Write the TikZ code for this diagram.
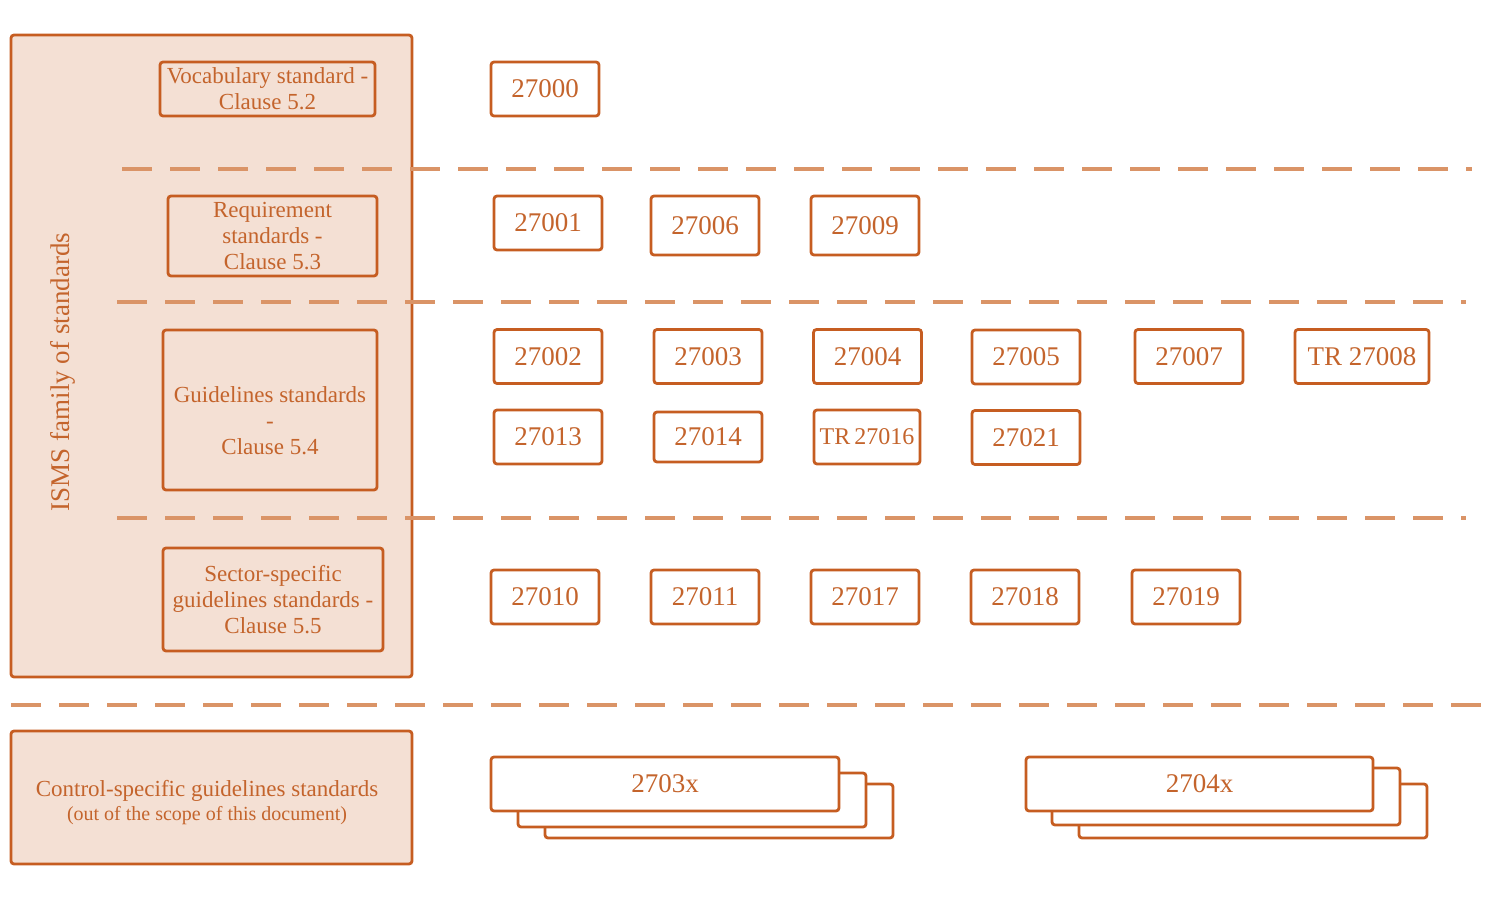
\documentclass[tikz,border=0pt]{standalone}
\usepackage{fontspec}
\setmainfont{Liberation Serif}
\definecolor{stroke}{HTML}{C65D21}
\definecolor{ink}{HTML}{C4642C}
\definecolor{peach}{HTML}{F4E0D4}
\definecolor{dashc}{HTML}{DA9467}
\tikzset{
  box/.style={draw=stroke, line width=1.4pt, rounded corners=1.5pt, inner sep=0pt, text=ink, align=center},
  numbox/.style={box, fill=white, minimum width=54pt, minimum height=27pt, font=\fontsize{13.5}{16}\selectfont},
  catbox/.style={box, fill=peach, font=\fontsize{11.5}{13}\selectfont},
  label/.style={text=ink, align=center, inner sep=0pt},
  sep/.style={draw=dashc, line width=1.6pt, dash pattern=on 15pt off 9pt},
  stackbox/.style={box, fill=white, minimum height=27pt, font=\fontsize{13.5}{16}\selectfont}
}
\begin{document}
\begin{tikzpicture}[x=0.5pt, y=-0.5pt]
\useasboundingbox (0,0) rectangle (1499,904);

% ISMS family frame
\node[catbox, minimum width=200.5pt, minimum height=321pt] (isms) at (211.5,356) {};
\node[label, rotate=90, font=\fontsize{13.5}{16}\selectfont] (ismslabel) at (63,372) {ISMS family of standards};

% category boxes
\node[catbox, minimum width=107.5pt, minimum height=27pt] (vocab) at (267.5,89) {Vocabulary standard -\\Clause 5.2};
\node[catbox, minimum width=104.5pt, minimum height=40pt] (req) at (272.5,236) {Requirement\\standards -\\Clause 5.3};
\node[catbox, minimum width=107pt, minimum height=80pt] (guide) at (270,410) {};
\node[label, font=\fontsize{11.5}{13}\selectfont] (guidetext) at (270,421) {Guidelines standards\\-\\Clause 5.4};
\node[catbox, minimum width=110pt, minimum height=51.5pt] (sector) at (273,599.5) {Sector-specific\\guidelines standards -\\Clause 5.5};

% section separators
\coordinate (s1a) at (122,169); \coordinate (s1b) at (1472,169);
\coordinate (s2a) at (117,302); \coordinate (s2b) at (1466,302);
\coordinate (s3a) at (117,518); \coordinate (s3b) at (1466,518);
\coordinate (s4a) at (11,705);  \coordinate (s4b) at (1499,705);
\draw[sep] (s1a) -- (s1b);
\draw[sep] (s2a) -- (s2b);
\draw[sep] (s3a) -- (s3b);
\draw[sep] (s4a) -- (s4b);

% vocabulary
\node[numbox] (n27000) at (545,89) {27000};
% requirements
\node[numbox] (n27001) at (548,223) {27001};
\node[numbox, minimum height=29.5pt] (n27006) at (705,225.5) {27006};
\node[numbox, minimum height=29.5pt] (n27009) at (865,225.5) {27009};
% guidelines
\node[numbox] (n27002) at (548,356.5) {27002};
\node[numbox] (n27003) at (708,356.5) {27003};
\node[numbox] (n27004) at (867.5,356.5) {27004};
\node[numbox] (n27005) at (1026,357) {27005};
\node[numbox] (n27007) at (1189,356.5) {27007};
\node[numbox, minimum width=67pt] (n27008) at (1362,356.5) {TR 27008};
\node[numbox] (n27013) at (548,437) {27013};
\node[numbox, minimum height=25pt] (n27014) at (708,437) {27014};
\node[numbox, minimum width=53pt, font=\fontsize{12}{14}\selectfont] (n27016) at (867,437) {TR\,27016};
\node[numbox] (n27021) at (1026,437.5) {27021};
% sector-specific
\node[numbox] (n27010) at (545,597) {27010};
\node[numbox] (n27011) at (705,597) {27011};
\node[numbox] (n27017) at (865,597) {27017};
\node[numbox] (n27018) at (1025,597) {27018};
\node[numbox] (n27019) at (1186,597) {27019};

% control-specific
\node[catbox, minimum width=200.5pt, minimum height=66.5pt] (ctrl) at (211.5,797.5) {};
\node[label, font=\fontsize{11.5}{12}\selectfont] (ctrltext) at (207,803) {Control-specific guidelines standards\\{\fontsize{10}{12}\selectfont(out of the scope of this document)}};

% 2703x stack
\node[stackbox, minimum width=174pt] (a3) at (719,811) {};
\node[stackbox, minimum width=174pt] (a2) at (692,800) {};
\node[stackbox, minimum width=174pt] (a1) at (665,784) {2703x};
% 2704x stack
\node[stackbox, minimum width=174pt] (b3) at (1253,811) {};
\node[stackbox, minimum width=174pt, minimum height=28.5pt] (b2) at (1226,796.5) {};
\node[stackbox, minimum width=173.5pt] (b1) at (1199.5,784) {2704x};
\end{tikzpicture}
\end{document}
